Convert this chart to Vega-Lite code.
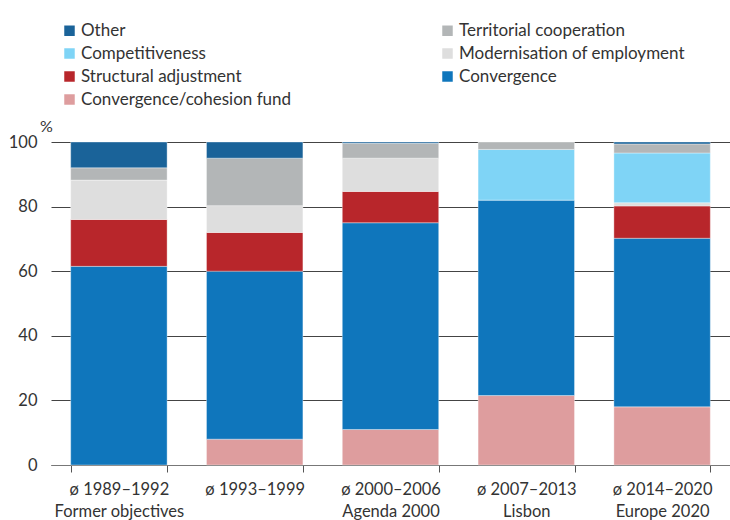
{
  "$schema": "https://vega.github.io/schema/vega-lite/v6.json",
  "autosize": "none",
  "width": 679,
  "height": 323,
  "padding": {"left": 51, "top": 142, "right": 0, "bottom": 55},
  "background": "white",
  "config": {
    "font": "Lato",
    "view": {"stroke": null},
    "axis": {"labelFont": "Lato", "titleFont": "Lato", "labelColor": "#333333", "titleColor": "#333333"}
  },
  "data": {
    "values": [
      {"period": "ø 1989–1992|Former objectives", "series": "Convergence", "o": 2, "value": 61.5},
      {"period": "ø 1989–1992|Former objectives", "series": "Structural adjustment", "o": 3, "value": 14.5},
      {"period": "ø 1989–1992|Former objectives", "series": "Modernisation of employment", "o": 4, "value": 12.2},
      {"period": "ø 1989–1992|Former objectives", "series": "Territorial cooperation", "o": 6, "value": 3.8},
      {"period": "ø 1989–1992|Former objectives", "series": "Other", "o": 7, "value": 8.0},

      {"period": "ø 1993–1999", "series": "Convergence/cohesion fund", "o": 1, "value": 8.0},
      {"period": "ø 1993–1999", "series": "Convergence", "o": 2, "value": 52.0},
      {"period": "ø 1993–1999", "series": "Structural adjustment", "o": 3, "value": 12.0},
      {"period": "ø 1993–1999", "series": "Modernisation of employment", "o": 4, "value": 8.3},
      {"period": "ø 1993–1999", "series": "Territorial cooperation", "o": 6, "value": 14.7},
      {"period": "ø 1993–1999", "series": "Other", "o": 7, "value": 5.0},

      {"period": "ø 2000–2006|Agenda 2000", "series": "Convergence/cohesion fund", "o": 1, "value": 11.0},
      {"period": "ø 2000–2006|Agenda 2000", "series": "Convergence", "o": 2, "value": 64.0},
      {"period": "ø 2000–2006|Agenda 2000", "series": "Structural adjustment", "o": 3, "value": 9.7},
      {"period": "ø 2000–2006|Agenda 2000", "series": "Modernisation of employment", "o": 4, "value": 10.3},
      {"period": "ø 2000–2006|Agenda 2000", "series": "Territorial cooperation", "o": 6, "value": 4.6},
      {"period": "ø 2000–2006|Agenda 2000", "series": "Other", "o": 7, "value": 0.4},

      {"period": "ø 2007–2013|Lisbon", "series": "Convergence/cohesion fund", "o": 1, "value": 21.5},
      {"period": "ø 2007–2013|Lisbon", "series": "Convergence", "o": 2, "value": 60.5},
      {"period": "ø 2007–2013|Lisbon", "series": "Competitiveness", "o": 5, "value": 15.7},
      {"period": "ø 2007–2013|Lisbon", "series": "Territorial cooperation", "o": 6, "value": 2.3},

      {"period": "ø 2014–2020|Europe 2020", "series": "Convergence/cohesion fund", "o": 1, "value": 18.0},
      {"period": "ø 2014–2020|Europe 2020", "series": "Convergence", "o": 2, "value": 52.2},
      {"period": "ø 2014–2020|Europe 2020", "series": "Structural adjustment", "o": 3, "value": 10.0},
      {"period": "ø 2014–2020|Europe 2020", "series": "Modernisation of employment", "o": 4, "value": 1.0},
      {"period": "ø 2014–2020|Europe 2020", "series": "Competitiveness", "o": 5, "value": 15.4},
      {"period": "ø 2014–2020|Europe 2020", "series": "Territorial cooperation", "o": 6, "value": 2.8},
      {"period": "ø 2014–2020|Europe 2020", "series": "Other", "o": 7, "value": 0.6}
    ]
  },
  "mark": {"type": "bar", "stroke": "#ffffff", "strokeWidth": 0.6, "strokeOpacity": 0.6},
  "encoding": {
    "x": {
      "field": "period",
      "type": "nominal",
      "sort": null,
      "scale": {"paddingInner": 0.29, "paddingOuter": 0.145},
      "axis": {
        "title": null,
        "labelAngle": 0,
        "labelFontSize": 16.5,
        "labelLineHeight": 22,
        "labelPadding": 9,
        "labelExpr": "split(datum.label, '|')",
        "tickBand": "extent",
        "tickSize": 7,
        "tickColor": "#555555",
        "domainColor": "#777777",
        "labelLimit": 200
      }
    },
    "y": {
      "field": "value",
      "type": "quantitative",
      "stack": "zero",
      "scale": {"domain": [0, 100], "nice": false},
      "axis": {
        "title": "%",
        "titleAngle": 0,
        "titleFontSize": 16,
        "titleFontWeight": "normal",
        "titleAlign": "center",
        "titleBaseline": "bottom",
        "titleX": -5,
        "titleY": -8,
        "values": [0, 20, 40, 60, 80, 100],
        "labelFontSize": 16.5,
        "labelPadding": 14,
        "domain": false,
        "ticks": false,
        "grid": true,
        "gridColor": "#444444",
        "gridWidth": 1
      }
    },
    "color": {
      "field": "series",
      "type": "nominal",
      "scale": {
        "domain": ["Other", "Competitiveness", "Structural adjustment", "Convergence/cohesion fund", "Territorial cooperation", "Modernisation of employment", "Convergence"],
        "range": ["#1a6399", "#7fd4f6", "#b8262b", "#de9d9e", "#b3b6b7", "#dedede", "#0f76bc"]
      },
      "legend": {
        "title": null,
        "orient": "none",
        "legendX": 10,
        "legendY": -120,
        "columns": 2,
        "columnPadding": 147,
        "rowPadding": 5,
        "symbolType": "square",
        "symbolSize": 110,
        "symbolStrokeWidth": 0,
        "labelFontSize": 17,
        "labelColor": "#333333",
        "labelOffset": 3,
        "labelLimit": 300
      }
    },
    "order": {"field": "o", "type": "quantitative"}
  }
}
